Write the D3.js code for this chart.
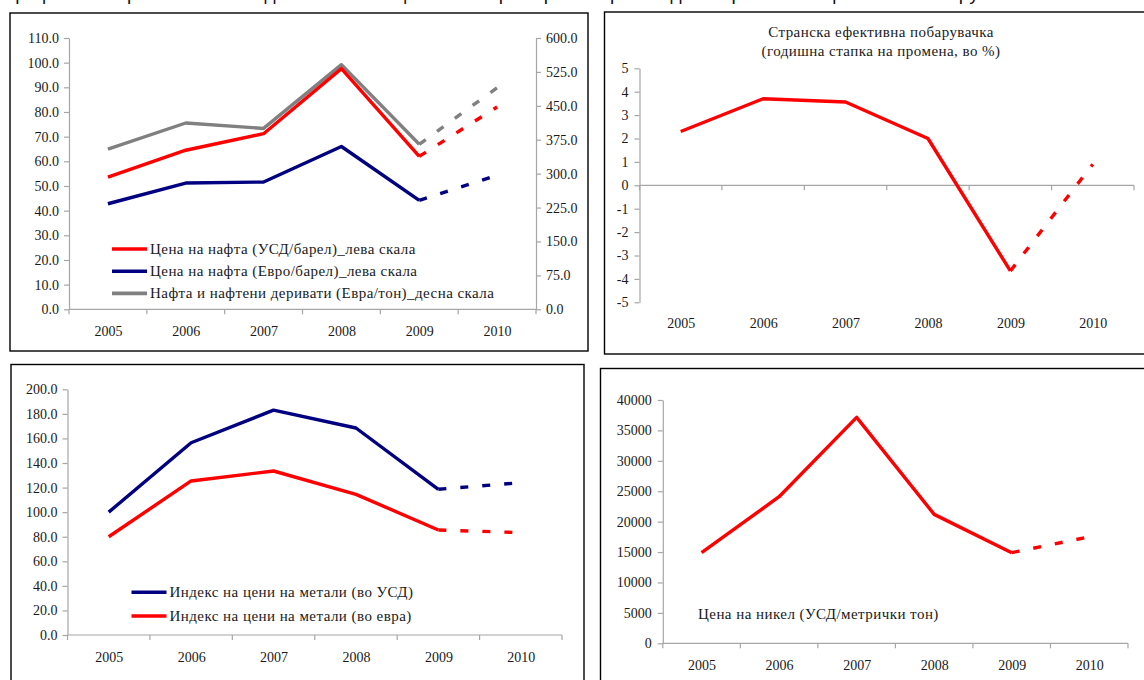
<!DOCTYPE html>
<html>
<head>
<meta charset="utf-8">
<script src="https://cdn.jsdelivr.net/npm/d3@7"></script>
<style>
  html, body { margin: 0; padding: 0; background: #fff; }
  svg { display: block; }
  .tick text { font-family: "Liberation Serif", "Times New Roman", serif; font-size: 14px; fill: #1a1a1a; }
  .lbl { font-family: "Liberation Serif", "Times New Roman", serif; font-size: 15px; letter-spacing: 0.45px; fill: #1a1a1a; }
</style>
</head>
<body>
<svg id="chart" width="1144" height="680"></svg>
<script>
// ---- data ----
const years = ["2005", "2006", "2007", "2008", "2009", "2010"];
const lastActual = 4; // 2009; the segment 2009-2010 is a projection (dashed)

// oil prices
const oilUsd = [53.6, 64.5, 71.2, 97.6, 62.0, 82.0];          // USD/barrel, left scale
const oilEur = [42.8, 51.2, 51.6, 66.0, 44.2, 54.3];          // EUR/barrel, left scale
const oilProductsEur = [354, 412, 400, 541, 365, 490];        // EUR/ton, right scale
const oilLeftTicks = [0, 10, 20, 30, 40, 50, 60, 70, 80, 90, 100, 110];
const oilRightTicks = [0, 75, 150, 225, 300, 375, 450, 525, 600];
const oilLegend = [
  "Цена на нафта (УСД/барел)_лева скала",
  "Цена на нафта (Евро/барел)_лева скала",
  "Нафта и нафтени деривати (Евра/тон)_десна скала"
];

// foreign effective demand
const foreignDemand = [2.3, 3.7, 3.56, 2.0, -3.66, 0.9];
const demandTicks = [-5, -4, -3, -2, -1, 0, 1, 2, 3, 4, 5];
const demandTitle = ["Странска ефективна побарувачка", "(годишна стапка на промена, во %)"];

// metal price index
const metalsUsd = [100.0, 156.5, 183.0, 168.5, 118.6, 124.0];
const metalsEur = [80.0, 125.4, 133.5, 114.5, 85.5, 83.3];
const metalTicks = [0, 20, 40, 60, 80, 100, 120, 140, 160, 180, 200];
const metalLegend = ["Индекс на цени на метали (во УСД)", "Индекс на цени на метали (во евра)"];

// nickel
const nickelUsd = [14900, 24100, 37150, 21200, 14900, 17500];
const nickelTicks = [0, 5000, 10000, 15000, 20000, 25000, 30000, 35000, 40000];
const nickelLabel = "Цена на никел (УСД/метрички тон)";

const pageTitle = "Графикон 2 Претпоставки за движењето на цените на примарните производи и странската ефективна побарувачка";

// ---- drawing helpers ----
const RED = "#ff0000", NAVY = "#000080", GREY = "#808080", AXIS = "#a6a6a6";
const svg = d3.select("#chart");
svg.append("rect").attr("width", 1144).attr("height", 680).attr("fill", "#fff");

// heading line, sitting above the top edge of the page (only descenders remain)
svg.append("text").attr("x", 6).attr("y", 0)
  .attr("font-family", "Liberation Sans, Arial, sans-serif").attr("font-size", 19)
  .attr("fill", "#111").text(pageTitle);

function frame(x, y, w, h) {
  svg.append("rect").attr("x", x).attr("y", y).attr("width", w).attr("height", h)
    .attr("fill", "none").attr("stroke", "#000").attr("stroke-width", 1.4);
}

function styleAxis(g) {
  g.selectAll(".domain").attr("stroke", AXIS).attr("stroke-width", 1.2);
  g.selectAll(".tick line").attr("stroke", AXIS).attr("stroke-width", 1.2);
  g.selectAll(".tick text").attr("fill", "#1a1a1a");
  g.attr("font-family", null).attr("font-size", null);
}

// category axis: line with ticks on category boundaries, labels centred in each category
function categoryAxis(x0, x1, yLine, yLabel) {
  const band = d3.scaleBand().domain(years).range([x0, x1]);
  const point = d3.scalePoint().domain(years).range([x0, x1]).padding(0.5);
  const g = svg.append("g");
  g.append("line").attr("x1", x0).attr("x2", x1).attr("y1", yLine).attr("y2", yLine)
    .attr("stroke", AXIS).attr("stroke-width", 1.2);
  const edges = years.map(d => band(d)).concat([x1]);
  g.selectAll("line.tk").data(edges).join("line").attr("class", "tk")
    .attr("x1", d => d).attr("x2", d => d).attr("y1", yLine).attr("y2", yLine + 5)
    .attr("stroke", AXIS).attr("stroke-width", 1.2);
  const lab = svg.append("g").attr("transform", `translate(0,${yLabel})`)
    .call(d3.axisBottom(point).tickSize(0).tickPadding(0));
  lab.select(".domain").remove();
  lab.attr("font-family", null).attr("font-size", null);
  lab.selectAll(".tick text").attr("dy", 0).attr("fill", "#1a1a1a");
  return point;
}

function series(x, y, values, color) {
  const pts = values.map((v, i) => [x(years[i]), y(v)]);
  const line = d3.line();
  const g = svg.append("g").attr("fill", "none").attr("stroke", color)
    .attr("stroke-width", 3.4).attr("stroke-linejoin", "round");
  g.append("path").attr("d", line(pts.slice(0, lastActual + 1)));
  g.append("path").attr("d", line(pts.slice(lastActual))).attr("stroke-dasharray", "8,14");
}

function legend(items, x0, y0, step) {
  const g = svg.append("g");
  items.forEach((it, i) => {
    const yy = y0 + i * step;
    g.append("line").attr("x1", x0).attr("x2", x0 + 35).attr("y1", yy).attr("y2", yy)
      .attr("stroke", it.color).attr("stroke-width", 3.6);
    g.append("text").attr("class", "lbl").attr("x", x0 + 38).attr("y", yy + 5).text(it.label);
  });
}

// ---- panel 1: oil prices ----
frame(10, 13, 578, 338);
{
  const L = 69, R = 536, B = 309.3, T = 38;
  const yL = d3.scaleLinear().domain([0, 110]).range([B, T]);
  const yR = d3.scaleLinear().domain([0, 600]).range([B, T]);
  const gl = svg.append("g").attr("transform", `translate(${L},0)`)
    .call(d3.axisLeft(yL).tickValues(oilLeftTicks).tickFormat(d3.format(".1f"))
      .tickSize(5).tickSizeOuter(0).tickPadding(5));
  styleAxis(gl);
  const gr = svg.append("g").attr("transform", `translate(${R},0)`)
    .call(d3.axisRight(yR).tickValues(oilRightTicks).tickFormat(d3.format(".1f"))
      .tickSize(5).tickSizeOuter(0).tickPadding(5));
  styleAxis(gr);
  const x = categoryAxis(L, R, B, 336);
  series(x, yR, oilProductsEur, GREY);
  series(x, yL, oilUsd, RED);
  series(x, yL, oilEur, NAVY);
  legend([
    { label: oilLegend[0], color: RED },
    { label: oilLegend[1], color: NAVY },
    { label: oilLegend[2], color: GREY }
  ], 112, 249, 22.2);
}

// ---- panel 2: foreign effective demand ----
frame(604.5, 12, 600, 342);
{
  const L = 639.5, R = 1134, B = 302.3, T = 68.3;
  const y = d3.scaleLinear().domain([-5, 5]).range([B, T]);
  const gy = svg.append("g").attr("transform", `translate(${L},0)`)
    .call(d3.axisLeft(y).tickValues(demandTicks).tickFormat(d => String(d))
      .tickSize(5).tickSizeOuter(0).tickPadding(6));
  styleAxis(gy);
  const x = categoryAxis(L, R, y(0), 328);
  series(x, y, foreignDemand, RED);
  const cx = 881;
  svg.append("text").attr("class", "lbl").attr("x", cx).attr("y", 37)
    .attr("text-anchor", "middle").text(demandTitle[0]);
  svg.append("text").attr("class", "lbl").attr("x", cx).attr("y", 56)
    .attr("text-anchor", "middle").text(demandTitle[1]);
}

// ---- panel 3: metal price index ----
frame(11, 364.5, 573, 400);
{
  const L = 67.5, R = 562, B = 635, T = 389.3;
  const y = d3.scaleLinear().domain([0, 200]).range([B, T]);
  const gy = svg.append("g").attr("transform", `translate(${L},0)`)
    .call(d3.axisLeft(y).tickValues(metalTicks).tickFormat(d3.format(".1f"))
      .tickSize(5).tickSizeOuter(0).tickPadding(5));
  styleAxis(gy);
  const x = categoryAxis(L, R, B, 661.5);
  series(x, y, metalsUsd, NAVY);
  series(x, y, metalsEur, RED);
  legend([
    { label: metalLegend[0], color: NAVY },
    { label: metalLegend[1], color: RED }
  ], 131.5, 592.3, 23.7);
}

// ---- panel 4: nickel price ----
frame(600.5, 368.5, 600, 400);
{
  const L = 662.8, R = 1128, B = 643.3, T = 400;
  const y = d3.scaleLinear().domain([0, 40000]).range([B, T]);
  const gy = svg.append("g").attr("transform", `translate(${L},0)`)
    .call(d3.axisLeft(y).tickValues(nickelTicks).tickFormat(d3.format("d"))
      .tickSize(5).tickSizeOuter(0).tickPadding(6));
  styleAxis(gy);
  const x = categoryAxis(L, R, B, 670);
  series(x, y, nickelUsd, RED);
  svg.append("text").attr("class", "lbl").attr("x", 698).attr("y", 619).text(nickelLabel);
}
</script>
</body>
</html>
